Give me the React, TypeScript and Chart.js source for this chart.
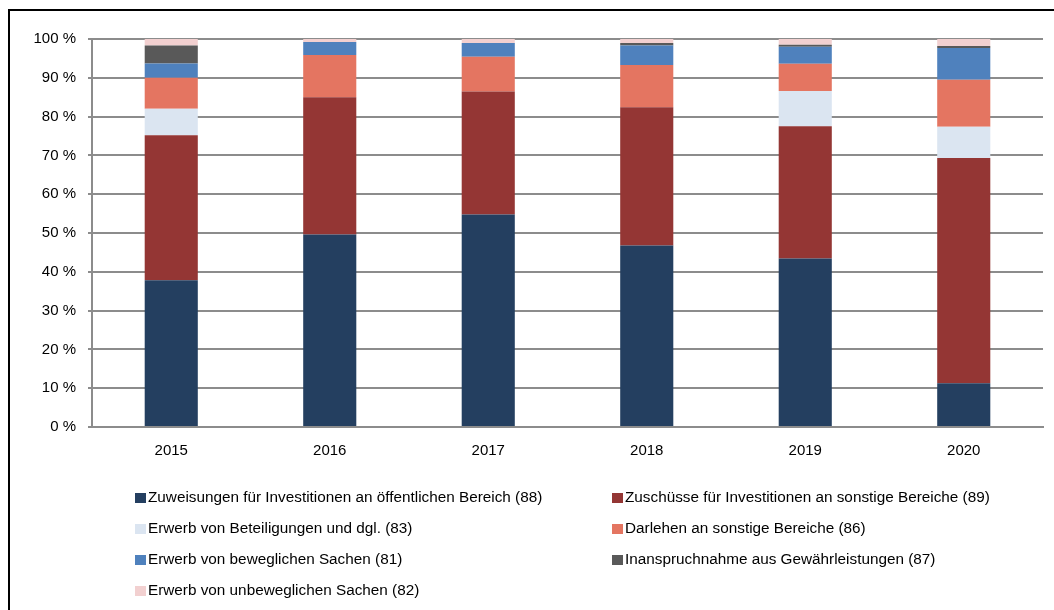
import React, { useEffect, useRef } from "react";
import { Chart, registerables } from "chart.js";

Chart.register(...registerables);

const years = ["2015", "2016", "2017", "2018", "2019", "2020"];

const zuweisungen = [37.8, 49.6, 54.8, 46.8, 43.4, 11.3];
const zuschuesse = [37.4, 35.4, 31.7, 35.6, 34.1, 58.0];
const beteiligungen = [6.8, 0, 0, 0, 9.1, 8.1];
const darlehen = [8.0, 10.9, 8.9, 10.9, 7.0, 12.1];
const beweglich = [3.7, 3.3, 3.6, 5.0, 4.4, 8.2];
const gewaehr = [4.6, 0, 0, 0.7, 0.5, 0.5];
const unbeweglich = [1.7, 0.8, 1.0, 1.0, 1.5, 1.8];

const seriesLabels = [
  "Zuweisungen für Investitionen an öffentlichen Bereich (88)",
  "Zuschüsse für Investitionen an sonstige Bereiche (89)",
  "Erwerb von Beteiligungen und dgl. (83)",
  "Darlehen an sonstige Bereiche (86)",
  "Erwerb von beweglichen Sachen (81)",
  "Inanspruchnahme aus Gewährleistungen (87)",
  "Erwerb von unbeweglichen Sachen (82)",
];

const seriesColors = [
  "#243f60",
  "#943634",
  "#dbe5f1",
  "#e47561",
  "#4f81bd",
  "#595959",
  "#f2d0d0",
];

const yTicks = [0, 10, 20, 30, 40, 50, 60, 70, 80, 90, 100];

const FONT = "'Liberation Sans', Arial, sans-serif";

const twoColLegend = {
  id: "twoColLegend",
  afterDraw(chart: any) {
    const ctx = chart.ctx;
    ctx.save();
    ctx.font = `15.3px ${FONT}`;
    ctx.textBaseline = "middle";
    ctx.textAlign = "left";
    chart.data.datasets.forEach((ds: any, i: number) => {
      const col = i % 2;
      const row = Math.floor(i / 2);
      const x = col === 0 ? 135 : 612;
      const y = 498 + row * 31;
      ctx.fillStyle = ds.backgroundColor;
      ctx.fillRect(x, y - 5, 11, 10);
      ctx.fillStyle = "#000";
      ctx.fillText(ds.label, x + 13, y);
    });
    ctx.restore();
  },
};

export default function App() {
  const ref = useRef<HTMLCanvasElement | null>(null);

  useEffect(() => {
    if (!ref.current) return;
    const data = [zuweisungen, zuschuesse, beteiligungen, darlehen, beweglich, gewaehr, unbeweglich];
    const chart = new Chart(ref.current, {
      type: "bar",
      data: {
        labels: years,
        datasets: data.map((d, i) => ({
          label: seriesLabels[i],
          data: d,
          backgroundColor: seriesColors[i],
          borderWidth: 0,
          barPercentage: 0.335,
          categoryPercentage: 1,
        })),
      },
      options: {
        responsive: false,
        animation: false,
        devicePixelRatio: 1,
        layout: { padding: { top: 39, right: 11, bottom: 0, left: 0 } },
        plugins: {
          legend: { display: false },
          tooltip: { enabled: false },
          title: { display: false },
        },
        scales: {
          x: {
            stacked: true,
            grid: { display: false, drawTicks: false },
            border: { display: true, color: "#8c8c8c", width: 2 },
            ticks: { color: "#000", font: { family: FONT, size: 15 }, padding: 15 },
            afterFit(scale: any) {
              scale.height = 610 - 427;
            },
          },
          y: {
            stacked: true,
            min: 0,
            max: 100,
            afterBuildTicks(scale: any) {
              scale.ticks = yTicks.map((v) => ({ value: v }));
            },
            ticks: {
              color: "#000",
              font: { family: FONT, size: 15 },
              padding: 12,
              callback: (v: any) => `${v} %`,
            },
            grid: { color: "#8c8c8c", lineWidth: 2, tickLength: 4, drawTicks: true },
            border: { display: true, color: "#8c8c8c", width: 2 },
            afterFit(scale: any) {
              scale.width = 92;
            },
          },
        },
      },
      plugins: [twoColLegend],
    });
    return () => chart.destroy();
  }, []);

  return (
    <>
      <div
        style={{
          position: "fixed",
          left: 8,
          top: 9,
          width: 1200,
          height: 800,
          borderTop: "2px solid #000",
          borderLeft: "2px solid #000",
          boxSizing: "border-box",
        }}
      />
      <canvas
        ref={ref}
        width={1054}
        height={610}
        style={{ position: "fixed", left: 0, top: 0, width: 1054, height: 610 }}
      />
    </>
  );
}
